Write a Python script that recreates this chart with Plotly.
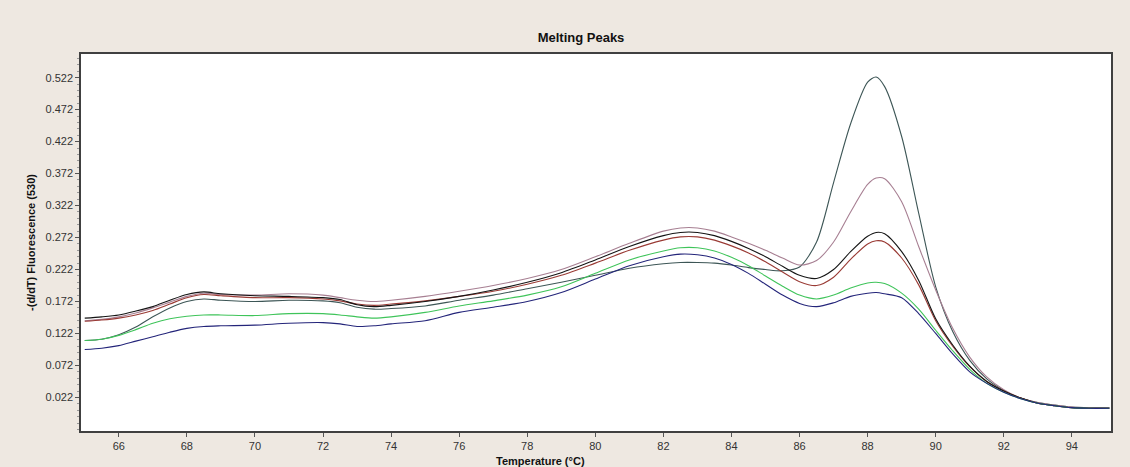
import plotly.graph_objects as go

temperature = [65, 65.5, 66, 66.5, 67, 67.5, 68, 68.5, 69, 70, 71, 72, 72.5, 73, 73.5, 74,
               75, 76, 77, 78, 79, 80, 81, 82, 82.5, 83, 83.5, 84, 84.5, 85, 85.5, 86,
               86.5, 87, 87.5, 88, 88.25, 88.5, 89, 89.5, 90, 90.5, 91, 91.5, 92, 92.5,
               93, 93.5, 94, 94.5, 95.1]

slate = [0.111, 0.113, 0.120, 0.132, 0.148, 0.162, 0.172, 0.176, 0.174, 0.172, 0.174, 0.173, 0.170, 0.163, 0.160, 0.161,
         0.165, 0.174, 0.182, 0.192, 0.202, 0.213, 0.224, 0.231, 0.233, 0.233, 0.232, 0.229, 0.225, 0.222, 0.220, 0.226,
         0.265, 0.358, 0.450, 0.515, 0.523, 0.508, 0.430, 0.310, 0.195, 0.125, 0.080, 0.051, 0.033, 0.021,
         0.014, 0.010, 0.007, 0.006, 0.006]

mauve = [0.142, 0.144, 0.148, 0.154, 0.162, 0.171, 0.180, 0.185, 0.183, 0.182, 0.184, 0.182, 0.178, 0.174, 0.172, 0.174,
         0.180, 0.188, 0.197, 0.208, 0.222, 0.242, 0.263, 0.282, 0.287, 0.287, 0.282, 0.273, 0.263, 0.252, 0.240, 0.229,
         0.236, 0.265, 0.312, 0.355, 0.365, 0.364, 0.328, 0.258, 0.190, 0.130, 0.085, 0.054, 0.034, 0.021,
         0.014, 0.010, 0.007, 0.006, 0.006]

black = [0.146, 0.148, 0.151, 0.157, 0.164, 0.174, 0.183, 0.187, 0.184, 0.181, 0.180, 0.178, 0.175, 0.167, 0.164, 0.166,
         0.172, 0.180, 0.190, 0.202, 0.217, 0.237, 0.258, 0.275, 0.280, 0.280, 0.275, 0.266, 0.255, 0.242, 0.227, 0.213,
         0.208, 0.222, 0.250, 0.274, 0.280, 0.278, 0.250, 0.205, 0.145, 0.104, 0.071, 0.047, 0.032, 0.021,
         0.013, 0.009, 0.006, 0.005, 0.005]

red = [0.141, 0.143, 0.146, 0.151, 0.158, 0.168, 0.178, 0.183, 0.181, 0.178, 0.178, 0.176, 0.173, 0.168, 0.166, 0.168,
       0.173, 0.180, 0.188, 0.199, 0.213, 0.232, 0.252, 0.268, 0.273, 0.273, 0.268, 0.259, 0.248, 0.234, 0.218, 0.203,
       0.197, 0.210, 0.238, 0.262, 0.267, 0.265, 0.240, 0.198, 0.142, 0.102, 0.070, 0.047, 0.032, 0.021,
       0.013, 0.009, 0.006, 0.005, 0.005]

green = [0.111, 0.113, 0.119, 0.128, 0.138, 0.145, 0.149, 0.151, 0.151, 0.150, 0.153, 0.153, 0.151, 0.148, 0.146, 0.148,
         0.155, 0.165, 0.173, 0.182, 0.195, 0.216, 0.237, 0.251, 0.256, 0.256, 0.251, 0.241, 0.228, 0.212, 0.196, 0.182,
         0.176, 0.182, 0.193, 0.201, 0.202, 0.200, 0.185, 0.160, 0.127, 0.095, 0.066, 0.044, 0.030, 0.020,
         0.013, 0.009, 0.006, 0.005, 0.005]

blue = [0.097, 0.099, 0.103, 0.110, 0.117, 0.124, 0.130, 0.133, 0.134, 0.135, 0.138, 0.139, 0.137, 0.133, 0.134, 0.137,
        0.142, 0.155, 0.163, 0.172, 0.186, 0.207, 0.228, 0.242, 0.246, 0.245, 0.240, 0.230, 0.216, 0.199, 0.182, 0.169,
        0.164, 0.170, 0.180, 0.185, 0.186, 0.184, 0.178, 0.153, 0.122, 0.090, 0.062, 0.044, 0.030, 0.020,
        0.013, 0.009, 0.006, 0.005, 0.005]

y_ticks = [0.022, 0.072, 0.122, 0.172, 0.222, 0.272, 0.322, 0.372, 0.422, 0.472, 0.522]
x_ticks = [66, 68, 70, 72, 74, 76, 78, 80, 82, 84, 86, 88, 90, 92, 94]

series = [
    ("Sample 1", slate, "#3d5656"),
    ("Sample 2", mauve, "#a77f92"),
    ("Sample 3", red, "#9a3b35"),
    ("Sample 4", black, "#151515"),
    ("Sample 5", green, "#3fc45a"),
    ("Sample 6", blue, "#24257a"),
]

fig = go.Figure()
for name, vals, color in series:
    fig.add_trace(go.Scatter(
        x=temperature, y=vals, mode="lines", name=name,
        line=dict(color=color, width=1.1, shape="spline", smoothing=0.8),
        hoverinfo="x+y+name",
    ))

font_family = "Liberation Sans, Arial, sans-serif"

fig.update_layout(
    width=1130, height=467,
    paper_bgcolor="#EEE8E1",
    plot_bgcolor="#FFFFFF",
    margin=dict(l=81, r=19, t=54, b=36),
    showlegend=False,
    font=dict(family=font_family, size=11, color="#333333"),
    title=dict(text="<b>Melting Peaks</b>", x=581 / 1130, xanchor="center",
               y=1 - 37 / 467, yanchor="middle",
               font=dict(family=font_family, size=13, color="#111111")),
)

fig.update_xaxes(
    range=[64.89, 95.15],
    tickmode="array", tickvals=x_ticks, ticktext=[str(t) for t in x_ticks],
    ticks="outside", ticklen=4, tickcolor="#555555",
    showgrid=False, zeroline=False,
    showline=True, linecolor="#404040", linewidth=1.5, mirror=True,
    tickfont=dict(size=11, color="#333333"),
)
fig.update_yaxes(
    range=[-0.0305, 0.559],
    tickmode="array", tickvals=y_ticks, ticktext=[f"{v:.3f}" for v in y_ticks],
    ticks="outside", ticklen=4, tickcolor="#555555",
    minor=dict(ticks="outside", ticklen=2, tick0=0.022, dtick=0.01, tickcolor="#999999"),
    showgrid=False, zeroline=False,
    showline=True, linecolor="#404040", linewidth=1.5, mirror=True,
    tickfont=dict(size=11, color="#333333"),
    title=dict(text="<b>-(d/dT) Fluorescence (530)</b>", standoff=8,
               font=dict(family=font_family, size=11, color="#111111")),
)

fig.add_annotation(
    text="<b>Temperature (°C)</b>", xref="paper", yref="paper",
    x=(540 - 81) / 1030, y=-(461 - 431) / 377, xanchor="center", yanchor="middle",
    showarrow=False, font=dict(family=font_family, size=11, color="#111111"),
)

fig.write_html("out.html", config={"displayModeBar": False},
               post_script="document.body.style.margin='0';document.body.style.padding='0';")
